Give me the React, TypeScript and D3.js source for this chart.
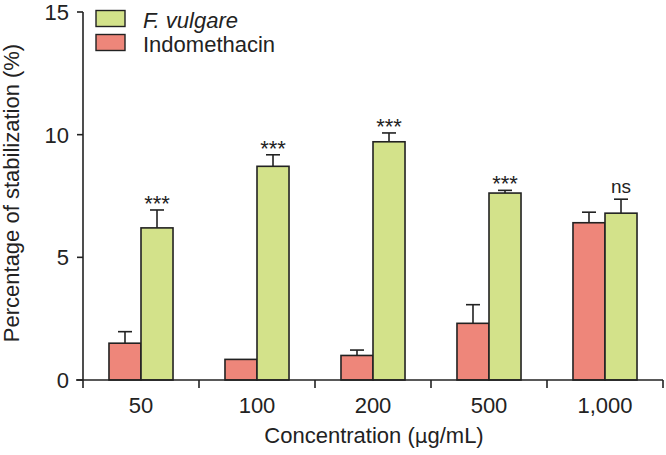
import { useRef, useEffect } from 'react';
import * as d3 from 'd3';

const categories = ['50', '100', '200', '500', '1,000'];
const indomethacin = [1.5, 0.84, 1.0, 2.31, 6.41];
const indomethacinErr = [0.47, 0, 0.22, 0.76, 0.43];
const vulgare = [6.2, 8.71, 9.71, 7.62, 6.8];
const vulgareErr = [0.73, 0.47, 0.36, 0.11, 0.57];
const marks = ['***', '***', '***', '***', 'ns'];
const yTicks = [0, 5, 10, 15];

const RED = '#ee867a';
const GREEN = '#d3e28a';
const FONT = 'Liberation Sans, Arial, sans-serif';
const INK = '#222';

export default function App() {
  const svgRef = useRef<SVGSVGElement>(null);

  useEffect(() => {
    const svg = d3.select(svgRef.current);
    svg.selectAll('*').remove();

    const x0 = 83, x1 = 663, yTop = 12, yBot = 380;
    const x = d3.scaleBand().domain(categories).range([x0, x1]);
    const y = d3.scaleLinear().domain([0, 15]).range([yBot, yTop]);
    const bw = x.bandwidth() * 0.276;

    const g = svg.append('g');

    // bars + error bars (upper only)
    const drawBar = (v: number, e: number, left: number, color: string) => {
      const cx = left + bw / 2;
      if (e > 0) {
        g.append('line').attr('x1', cx).attr('x2', cx).attr('y1', y(v)).attr('y2', y(v + e))
          .attr('stroke', INK).attr('stroke-width', 1.6);
        g.append('line').attr('x1', cx - 7).attr('x2', cx + 7).attr('y1', y(v + e)).attr('y2', y(v + e))
          .attr('stroke', INK).attr('stroke-width', 1.6);
      }
      g.append('rect').attr('x', left).attr('y', y(v)).attr('width', bw).attr('height', y(0) - y(v))
        .attr('fill', color).attr('stroke', INK).attr('stroke-width', 1.6);
    };

    categories.forEach((c, i) => {
      const center = (x(c) as number) + x.bandwidth() / 2;
      drawBar(indomethacin[i], indomethacinErr[i], center - bw, RED);
      drawBar(vulgare[i], vulgareErr[i], center, GREEN);
      const top = y(vulgare[i] + vulgareErr[i]);
      const isNs = marks[i] === 'ns';
      g.append('text').attr('x', center + bw / 2).attr('y', isNs ? top - 6 : top + 1)
        .attr('text-anchor', 'middle').attr('font-family', FONT)
        .attr('font-size', isNs ? '19px' : '22px').attr('fill', INK)
        .text(marks[i]);
    });

    // y axis
    g.append('line').attr('x1', x0).attr('x2', x0).attr('y1', yTop).attr('y2', yBot)
      .attr('stroke', INK).attr('stroke-width', 1.6);
    yTicks.forEach(t => {
      g.append('line').attr('x1', x0 - 6).attr('x2', x0).attr('y1', y(t)).attr('y2', y(t))
        .attr('stroke', INK).attr('stroke-width', 1.6);
      g.append('text').attr('x', x0 - 14).attr('y', y(t)).attr('dy', '0.36em')
        .attr('text-anchor', 'end').attr('font-family', FONT).attr('font-size', '22px').attr('fill', INK)
        .text(t);
    });

    // x axis
    g.append('line').attr('x1', x0 - 7).attr('x2', x1).attr('y1', yBot).attr('y2', yBot)
      .attr('stroke', INK).attr('stroke-width', 1.6);
    [...categories.map(c => x(c) as number), x1].forEach(px => {
      g.append('line').attr('x1', px).attr('x2', px).attr('y1', yBot).attr('y2', yBot + 8)
        .attr('stroke', INK).attr('stroke-width', 1.6);
    });
    categories.forEach(c => {
      g.append('text').attr('x', (x(c) as number) + x.bandwidth() / 2).attr('y', yBot + 33)
        .attr('text-anchor', 'middle').attr('font-family', FONT).attr('font-size', '22px').attr('fill', INK)
        .text(c);
    });

    // axis titles
    const xt = g.append('text').attr('x', 374).attr('y', 443).attr('text-anchor', 'middle')
      .attr('font-family', FONT).attr('font-size', '22px').attr('fill', INK);
    xt.append('tspan').text('Concentration (');
    xt.append('tspan').attr('font-family', 'DejaVu Sans, sans-serif').attr('font-size', '20px').text('μ');
    xt.append('tspan').text('g/mL)');
    g.append('text').attr('transform', 'translate(18.5,193) rotate(-90)')
      .attr('text-anchor', 'middle').attr('font-family', FONT).attr('font-size', '22px').attr('fill', INK)
      .text('Percentage of stabilization (%)');

    // legend
    const legend = [
      { label: 'F. vulgare', color: GREEN, italic: true },
      { label: 'Indomethacin', color: RED, italic: false },
    ];
    legend.forEach((l, i) => {
      const ly = 10.5 + i * 24;
      g.append('rect').attr('x', 96).attr('y', ly).attr('width', 29).attr('height', 16)
        .attr('fill', l.color).attr('stroke', INK).attr('stroke-width', 1.4);
      g.append('text').attr('x', 143).attr('y', ly + 17.5)
        .attr('font-family', FONT).attr('font-size', '22px').attr('fill', INK)
        .attr('font-style', l.italic ? 'italic' : 'normal').text(l.label);
    });
  }, []);

  return (
    <svg ref={svgRef} viewBox="0 0 666 455" width={666} height={455}
      style={{ display: 'block', position: 'absolute', left: 0, top: 0, background: '#fff' }} />
  );
}
